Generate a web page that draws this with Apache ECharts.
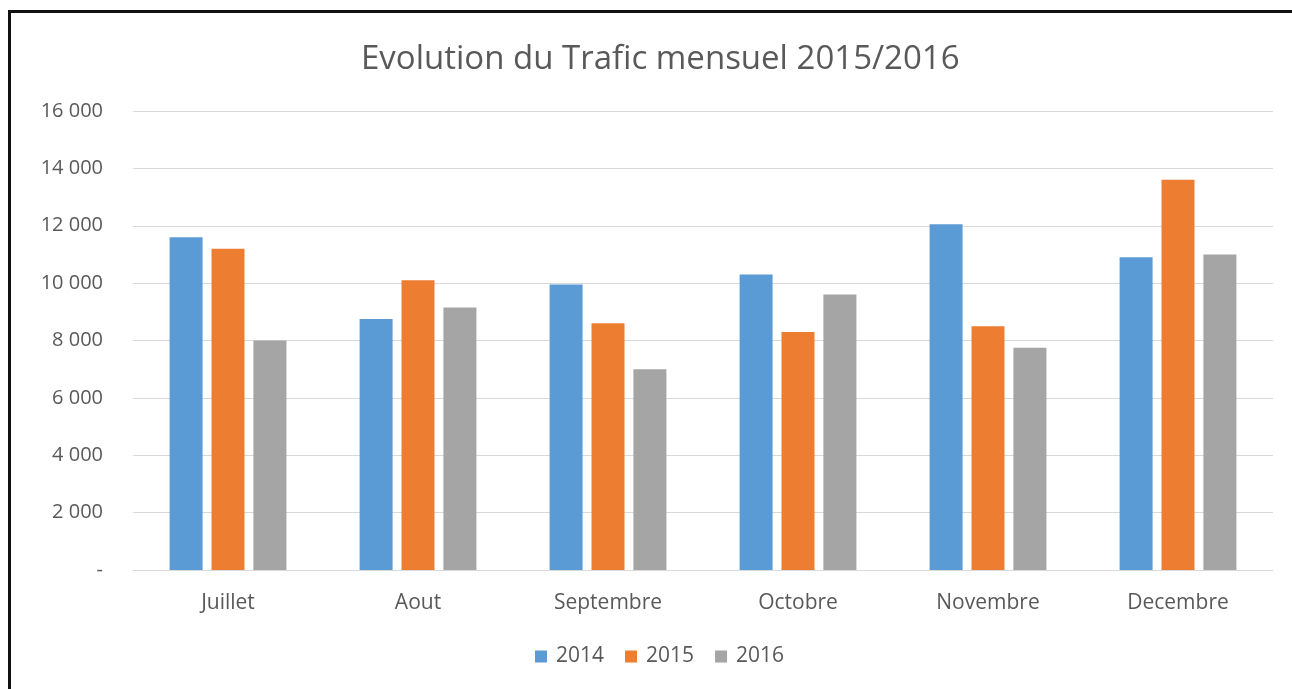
<!DOCTYPE html>
<html>
<head>
<meta charset="utf-8">
<script src="https://cdn.jsdelivr.net/npm/echarts@6/dist/echarts.min.js"></script>
<style>
html,body{margin:0;padding:0;background:#fff;}
#chart{position:absolute;left:0;top:0;width:1292px;height:689px;}
#frame{position:absolute;left:8px;top:10px;width:1400px;height:800px;border-left:3px solid #111;border-top:3px solid #111;pointer-events:none;}
</style>
</head>
<body>
<div id="chart"></div>
<div id="frame"></div>
<script>
var titleText = 'Evolution du Trafic mensuel 2015/2016';
var categories = ['Juillet', 'Aout', 'Septembre', 'Octobre', 'Novembre', 'Decembre'];
var seriesNames = ['2014', '2015', '2016'];
var values2014 = [11600, 8750, 9950, 10300, 12050, 10900];
var values2015 = [11200, 10100, 8600, 8300, 8500, 13600];
var values2016 = [8000, 9150, 7000, 9600, 7750, 11000];
var colors = ['#5B9BD5', '#ED7D31', '#A5A5A5'];

function fmt(v) {
  if (v === 0) return '-';
  return String(v).replace(/\B(?=(\d{3})+(?!\d))/g, ' ');
}

var chart = echarts.init(document.getElementById('chart'));
var font = '"Open Sans", sans-serif';
var dataSets = [values2014, values2015, values2016];
chart.setOption({
  animation: false,
  color: colors,
  title: {
    text: titleText,
    left: 356,
    top: 38,
    textStyle: { fontFamily: font, fontSize: 33, fontWeight: 'normal', color: '#595959' }
  },
  legend: {
    data: seriesNames,
    bottom: 17,
    left: 530,
    itemWidth: 12,
    itemHeight: 12,
    itemGap: 21,
    icon: 'rect',
    textStyle: { fontFamily: font, fontSize: 21, color: '#595959', padding: [0, 0, 0, 4] }
  },
  grid: { left: 133, right: 19, top: 111, bottom: 119, containLabel: false },
  xAxis: {
    type: 'category',
    data: categories,
    axisLine: { lineStyle: { color: '#d9d9d9', width: 1 } },
    axisTick: { show: false },
    axisLabel: { fontFamily: font, fontSize: 21, color: '#595959', margin: 23 }
  },
  yAxis: {
    type: 'value',
    min: 0,
    max: 16000,
    interval: 2000,
    axisLine: { show: false },
    axisTick: { show: false },
    splitLine: { lineStyle: { color: '#d9d9d9', width: 1 } },
    axisLabel: { fontFamily: font, fontSize: 20, color: '#595959', margin: 30, formatter: fmt }
  },
  series: seriesNames.map(function (n, i) {
    return {
      name: n,
      type: 'bar',
      data: dataSets[i],
      barWidth: 33,
      barGap: '27%'
    };
  })
});
</script>
</body>
</html>
